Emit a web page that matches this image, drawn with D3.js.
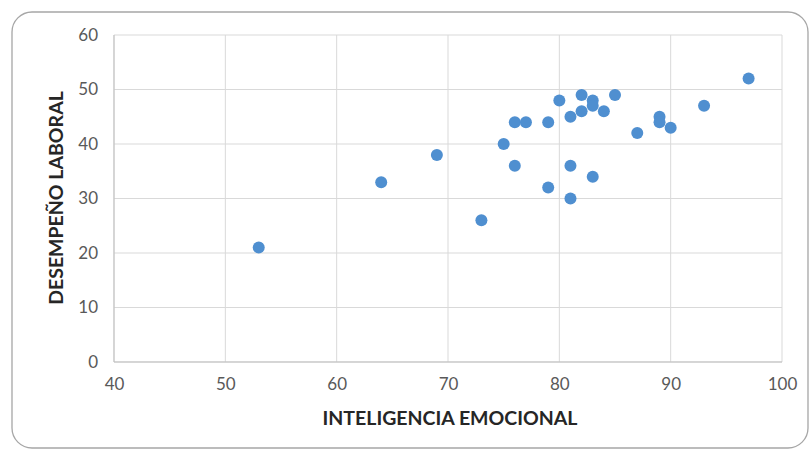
<!DOCTYPE html>
<html><head><meta charset="utf-8">
<script src="https://cdn.jsdelivr.net/npm/d3@7"></script>
<style>html,body{margin:0;padding:0;background:#fff;}svg{display:block;}</style>
</head><body>
<svg id="c" width="812" height="451"></svg>
<script>
const inteligencia = [97,93,85,82,80,83,83,82,84,81,76,77,79,89,89,90,87,75,69,76,81,83,79,81,73,64,53];
const desempeno    = [52,47,49,49,48,48,47,46,46,45,44,44,44,45,44,43,42,40,38,36,36,34,32,30,26,33,21];
const xTicks = [40,50,60,70,80,90,100];
const yTicks = [0,10,20,30,40,50,60];
const xTitle = "INTELIGENCIA EMOCIONAL";
const yTitle = "DESEMPEÑO LABORAL";

const svg = d3.select("#c");
const font = "Lato, 'Open Sans', sans-serif";
svg.append("rect").attr("x",12).attr("y",12).attr("width",796).attr("height",436)
  .attr("rx",20).attr("fill","#fff").attr("stroke","#a6a6a6").attr("stroke-width",1.3);

const x = d3.scaleLinear().domain([40,100]).range([114,782]);
const y = d3.scaleLinear().domain([0,60]).range([362,35]);

const g = svg.append("g");
g.selectAll(".gx").data(xTicks).join("line")
  .attr("x1",d=>x(d)).attr("x2",d=>x(d)).attr("y1",y(60)).attr("y2",y(0))
  .attr("stroke","#d9d9d9").attr("stroke-width",1);
g.selectAll(".gy").data(yTicks).join("line")
  .attr("y1",d=>y(d)).attr("y2",d=>y(d)).attr("x1",x(40)).attr("x2",x(100))
  .attr("stroke","#d9d9d9").attr("stroke-width",1);
g.append("line").attr("x1",x(40)).attr("x2",x(100)).attr("y1",y(0)).attr("y2",y(0)).attr("stroke","#bfbfbf");
g.append("line").attr("x1",x(40)).attr("x2",x(40)).attr("y1",y(0)).attr("y2",y(60)).attr("stroke","#bfbfbf");

const xa = svg.append("g").attr("transform",`translate(0,${y(0)})`)
  .call(d3.axisBottom(x).tickValues(xTicks).tickSize(0).tickPadding(16));
xa.select(".domain").remove();
xa.selectAll("text").attr("fill","#595959").attr("font-family",font).attr("font-size",17);
const ya = svg.append("g").attr("transform",`translate(${x(40)},0)`)
  .call(d3.axisLeft(y).tickValues(yTicks).tickSize(0).tickPadding(16));
ya.select(".domain").remove();
ya.selectAll("text").attr("fill","#595959").attr("font-family",font).attr("font-size",17);

svg.append("text").attr("x",450).attr("y",425).attr("text-anchor","middle")
  .attr("font-family",font).attr("font-weight","bold").attr("font-size",19.5).attr("fill","#262626").text(xTitle);
svg.append("text").attr("transform","translate(63,198) rotate(-90)").attr("text-anchor","middle")
  .attr("font-family",font).attr("font-weight","bold").attr("font-size",19.5).attr("fill","#262626").text(yTitle);

svg.append("g").selectAll("circle").data(inteligencia.map((v,i)=>[v,desempeno[i]])).join("circle")
  .attr("cx",d=>x(d[0])).attr("cy",d=>y(d[1])).attr("r",6).attr("fill","#4f8fd0");
</script>
</body></html>
